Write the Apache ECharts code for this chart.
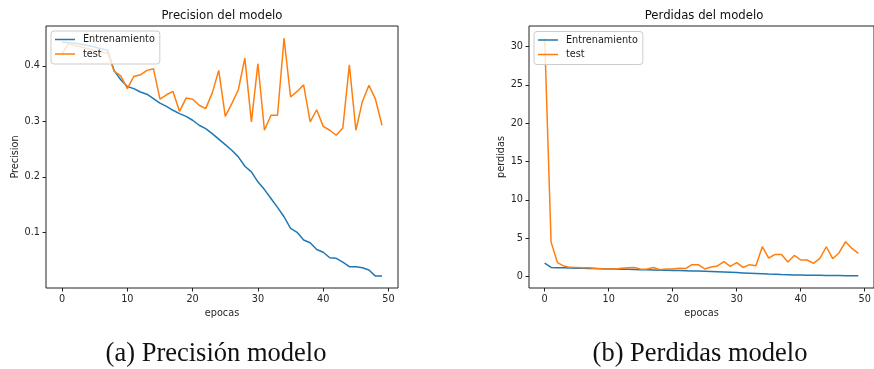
<!DOCTYPE html>
<html>
<head>
<meta charset="utf-8">
<script src="https://cdn.jsdelivr.net/npm/echarts@6/dist/echarts.min.js"></script>
<style>
  html, body { margin: 0; padding: 0; background: #ffffff; }
  #chart { width: 874px; height: 369px; }
</style>
</head>
<body>
<div id="chart"></div>
<script>
// Tick labels
const epocasTicks = [0, 10, 20, 30, 40, 50];
const precisionTicks = [0.1, 0.2, 0.3, 0.4];
const perdidasTicks = [0, 5, 10, 15, 20, 25, 30];

// Accuracy per epoch
const precisionEntrenamiento = [0.443, 0.442, 0.441, 0.439, 0.437, 0.434, 0.431, 0.428, 0.391, 0.375,
  0.363, 0.359, 0.353, 0.349, 0.341, 0.333, 0.327, 0.320, 0.314, 0.309,
  0.302, 0.293, 0.287, 0.278, 0.268, 0.258, 0.248, 0.236, 0.219, 0.209,
  0.191, 0.177, 0.161, 0.145, 0.128, 0.107, 0.100, 0.086, 0.081, 0.069,
  0.064, 0.054, 0.053, 0.046, 0.038, 0.038, 0.036, 0.032, 0.021, 0.021];
const precisionTest = [0.422, 0.440, 0.437, 0.434, 0.431, 0.428, 0.425, 0.423, 0.390, 0.382,
  0.359, 0.381, 0.384, 0.392, 0.395, 0.340, 0.348, 0.354, 0.318, 0.342,
  0.340, 0.329, 0.323, 0.351, 0.392, 0.309, 0.332, 0.357, 0.414, 0.299,
  0.404, 0.284, 0.311, 0.311, 0.450, 0.344, 0.354, 0.366, 0.299, 0.321,
  0.291, 0.284, 0.275, 0.288, 0.402, 0.284, 0.336, 0.365, 0.340, 0.293];

// Loss per epoch
const perdidasEntrenamiento = [1.77, 1.20, 1.17, 1.15, 1.13, 1.11, 1.09, 1.07, 1.05, 1.03,
  1.01, 0.99, 0.97, 0.95, 0.93, 0.91, 0.89, 0.87, 0.85, 0.83,
  0.81, 0.79, 0.77, 0.75, 0.73, 0.70, 0.67, 0.64, 0.61, 0.57,
  0.53, 0.49, 0.45, 0.41, 0.37, 0.33, 0.30, 0.27, 0.25, 0.23,
  0.21, 0.19, 0.18, 0.17, 0.16, 0.15, 0.14, 0.13, 0.12, 0.11];
const perdidasTest = [31.1, 4.5, 1.82, 1.38, 1.21, 1.2, 1.15, 1.15, 1.06, 1.02,
  1.0, 1.0, 1.1, 1.15, 1.2, 0.98, 1.0, 1.2, 0.9, 1.0,
  1.0, 1.1, 1.05, 1.56, 1.56, 1.0, 1.25, 1.4, 1.95, 1.35,
  1.82, 1.2, 1.56, 1.43, 3.9, 2.43, 2.9, 2.9, 1.9, 2.77,
  2.17, 2.17, 1.73, 2.38, 3.9, 2.34, 3.12, 4.55, 3.68, 3.03];

const AZUL = '#1f77b4';
const NARANJA = '#ff7f0e';
const TEXTO = '#262626';
const FUENTE = 'DejaVu Sans';
const FS = 9.7;

const pares = arr => arr.map((v, i) => [i, v]);

function ejeX(gridIndex) {
  return {
    type: 'value', gridIndex,
    min: -2.45, max: 51.45,
    name: 'epocas', nameLocation: 'middle', nameGap: 19,
    nameTextStyle: { fontFamily: FUENTE, fontSize: FS, color: TEXTO },
    axisLine: { show: false, onZero: false },
    splitLine: { show: false },
    axisTick: { show: true, length: 3.5, customValues: epocasTicks, lineStyle: { color: '#222', width: 1 } },
    axisLabel: { customValues: epocasTicks, margin: 6, fontFamily: FUENTE, fontSize: FS, color: TEXTO,
      formatter: v => String(v) }
  };
}

function ejeY(gridIndex, min, max, ticks, name, gap, fmt) {
  return {
    type: 'value', gridIndex, min, max,
    name, nameLocation: 'middle', nameGap: gap, nameRotate: 90,
    nameTextStyle: { fontFamily: FUENTE, fontSize: FS, color: TEXTO },
    axisLine: { show: false, onZero: false },
    splitLine: { show: false },
    axisTick: { show: true, length: 3.5, customValues: ticks, lineStyle: { color: '#222', width: 1 } },
    axisLabel: { customValues: ticks, margin: 6, fontFamily: FUENTE, fontSize: FS, color: TEXTO, formatter: fmt }
  };
}

function leyenda(left, top) {
  return {
    orient: 'vertical', left, top,
    data: ['Entrenamiento', 'test'],
    icon: 'rect', itemWidth: 20, itemHeight: 1.5, itemGap: 2.5,
    padding: [2.5, 5, 4, 4],
    backgroundColor: 'rgba(255,255,255,0.8)',
    borderColor: '#cccccc', borderWidth: 1, borderRadius: 3,
    selectedMode: false,
    textStyle: { fontFamily: FUENTE, fontSize: FS, color: '#1a1a1a', lineHeight: 12, padding: [0, 0, 0, 3] }
  };
}

function serie(name, data, color, xi) {
  return {
    type: 'line', name, data: pares(data),
    xAxisIndex: xi, yAxisIndex: xi,
    showSymbol: false, symbol: 'none',
    lineStyle: { color, width: 1.5 },
    itemStyle: { color },
    animation: false
  };
}

function texto(x, y, text, font) {
  return { type: 'text', x, y, silent: true,
    style: { text, font, fill: '#111', align: 'center', verticalAlign: 'middle' } };
}

const chart = echarts.init(document.getElementById('chart'), null, { renderer: 'canvas' });
chart.setOption({
  animation: false,
  backgroundColor: '#ffffff',
  grid: [
    { left: 46, top: 26, width: 352, height: 262, show: true, borderColor: '#222', borderWidth: 1, containLabel: false },
    { left: 529, top: 26, width: 350, height: 262, show: true, borderColor: '#222', borderWidth: 1, containLabel: false }
  ],
  xAxis: [ejeX(0), ejeX(1)],
  yAxis: [
    ejeY(0, -0.0005, 0.472, precisionTicks, 'Precision', 25, v => v.toFixed(1)),
    ejeY(1, -1.48, 32.68, perdidasTicks, 'perdidas', 23, v => String(v))
  ],
  legend: [leyenda(51, 31), leyenda(534, 31.5)],
  series: [
    serie('Entrenamiento', precisionEntrenamiento, AZUL, 0),
    serie('test', precisionTest, NARANJA, 0),
    serie('Entrenamiento', perdidasEntrenamiento, AZUL, 1),
    serie('test', perdidasTest, NARANJA, 1)
  ],
  graphic: [
    texto(222, 16, 'Precision del modelo', `${11.7}px "DejaVu Sans"`),
    texto(704, 16, 'Perdidas del modelo', `${11.7}px "DejaVu Sans"`),
    texto(216, 354, '(a) Precisión modelo', '26.5px "Liberation Serif"'),
    texto(700, 354, '(b) Perdidas modelo', '26.5px "Liberation Serif"')
  ]
});
</script>
</body>
</html>
